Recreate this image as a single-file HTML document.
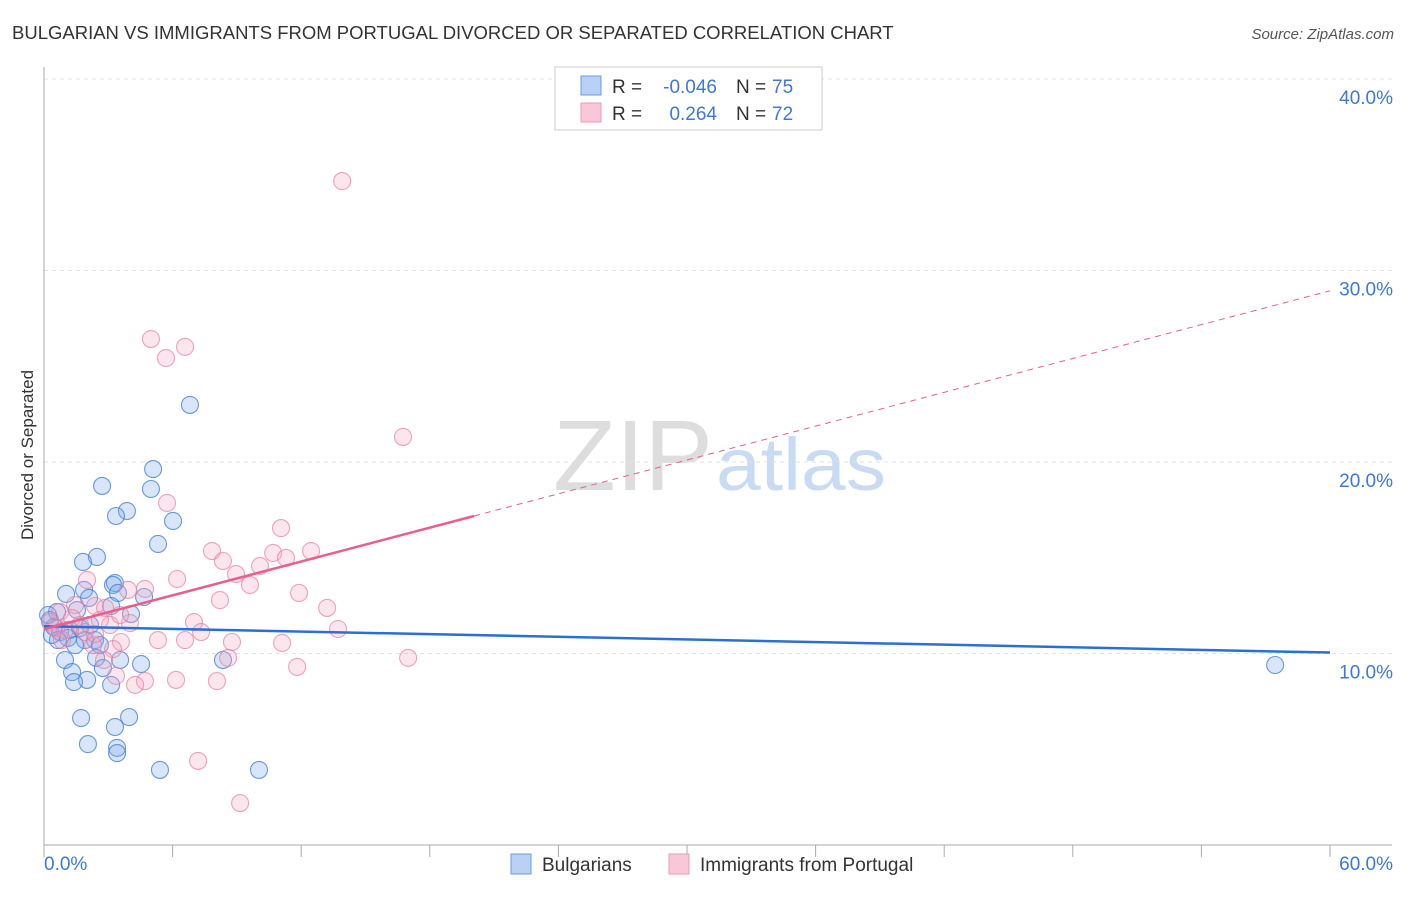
<!DOCTYPE html>
<html><head><meta charset="utf-8"><style>
body{margin:0;background:#fff;font-family:"Liberation Sans",sans-serif;}
svg text{font-family:"Liberation Sans",sans-serif;}
</style></head><body>
<svg id="chart" width="1406" height="892" xmlns="http://www.w3.org/2000/svg">
<text x="12" y="39" font-size="18.5" fill="#333">BULGARIAN VS IMMIGRANTS FROM PORTUGAL DIVORCED OR SEPARATED CORRELATION CHART</text>
<text x="1394" y="39" font-size="15" fill="#555" font-style="italic" text-anchor="end">Source: ZipAtlas.com</text>
<text transform="translate(33,455) rotate(-90)" font-size="17" fill="#333" text-anchor="middle">Divorced or Separated</text>
<g>
<text x="553" y="490" font-size="100" fill="#ddd" font-family="Liberation Serif,serif" textLength="160" lengthAdjust="spacingAndGlyphs">ZIP</text>
<text x="716" y="490" font-size="74" fill="#c8dbf3" textLength="170" lengthAdjust="spacingAndGlyphs">atlas</text>
</g>
<g id="grid"></g>
<g id="axes"></g>
<g id="pts"></g>
<g id="trends"></g>
<g>
<rect x="555" y="67" width="267" height="63" fill="#fff" stroke="#ccc"/>
<rect x="581" y="76" width="20" height="19" fill="#b9d1f4" stroke="#6b9be0"/>
<rect x="581" y="103" width="20" height="19" fill="#f8c8d8" stroke="#e898b4"/>
<text x="612" y="93" font-size="19" fill="#333">R =</text>
<text x="717" y="93" font-size="19" fill="#3d78d8" text-anchor="end">-0.046</text>
<text x="736" y="93" font-size="19" fill="#333">N =</text>
<text x="772" y="93" font-size="19" fill="#3d78d8">75</text>
<text x="612" y="120" font-size="19" fill="#333">R =</text>
<text x="717" y="120" font-size="19" fill="#3d78d8" text-anchor="end">0.264</text>
<text x="736" y="120" font-size="19" fill="#333">N =</text>
<text x="772" y="120" font-size="19" fill="#3d78d8">72</text>
</g>
<g>
<rect x="511" y="854" width="20" height="20" fill="#b9d1f4" stroke="#6b9be0"/>
<text x="542" y="871" font-size="19" fill="#333">Bulgarians</text>
<rect x="669" y="854" width="20" height="20" fill="#f8c8d8" stroke="#e898b4"/>
<text x="700" y="871" font-size="19" fill="#333">Immigrants from Portugal</text>
</g>
</svg>
<script>
const yTicks=[10,20,30,40];
const xTickLabels=["0.0%","60.0%"];
const blueX=[6.81,5.09,2.71,4.99,3.87,3.36,6.02,5.32,2.47,1.82,3.31,3.22,4.67,1.03,3.45,1.87,2.10,3.13,4.06,1.54,0.61,0.28,0.47,0.75,1.21,1.68,2.15,2.38,1.91,1.12,1.45,0.65,2.61,0.98,2.43,2.75,1.31,2.01,3.13,1.40,4.53,8.35,3.55,57.44,1.73,3.97,3.31,2.05,3.41,3.41,5.41,10.03,0.19,0.37];
const blueY=[22.98,19.63,18.75,18.59,17.44,17.18,16.92,15.72,15.04,14.78,13.68,13.58,12.95,13.11,13.16,13.32,12.90,12.48,12.06,12.27,12.17,11.75,11.38,11.12,11.23,11.33,11.49,10.70,10.70,10.81,10.44,10.70,10.44,9.66,9.77,9.24,9.03,8.62,8.36,8.51,9.45,9.66,9.66,9.40,6.63,6.68,6.16,5.27,5.07,4.80,3.92,3.92,12.01,10.97];
const pinkX=[13.91,4.99,6.58,5.69,16.75,5.74,11.06,12.46,7.84,10.69,11.29,8.35,10.08,8.96,6.21,9.61,2.01,4.71,3.92,11.90,8.21,1.45,2.38,0.75,2.85,13.21,7.00,13.72,4.01,3.08,7.33,6.58,8.77,11.11,2.29,5.32,3.59,3.22,2.80,8.59,11.81,16.99,3.36,4.71,6.16,8.07,4.25,7.19,9.15,0.28,0.56,0.98,1.31,1.68,1.91,2.38,0.84,2.61,3.55];
const pinkY=[34.67,26.42,26.01,25.43,21.31,17.86,16.55,15.35,15.35,15.25,14.99,14.83,14.57,14.15,13.89,13.58,13.84,13.37,13.32,13.16,12.79,12.53,12.48,12.17,12.38,12.38,11.64,11.28,11.59,11.49,11.12,10.70,10.60,10.55,10.44,10.70,10.60,10.23,9.66,9.77,9.30,9.77,8.83,8.56,8.62,8.56,8.36,4.39,2.19,11.64,11.33,11.23,11.85,11.49,11.12,11.02,10.70,11.75,12.01];
const blueTrend=[11.42,10.05];
const pinkTrend=[11.27,28.94];
const pinkSolidEnd=20.07;

const NS="http://www.w3.org/2000/svg";
const X0=44,X1=1330,Y0=845;
function sx(v){return X0+v*(X1-X0)/60;}
function sy(v){return Y0-v*19.15;}
function mk(t,a,p){const e=document.createElementNS(NS,t);for(const k in a)e.setAttribute(k,a[k]);p.appendChild(e);return e;}
const grid=document.getElementById('grid'),axes=document.getElementById('axes');
yTicks.forEach(t=>{
  const l=mk('line',{x1:X0,x2:1392,y1:sy(t),y2:sy(t),stroke:'#e2e2e2','stroke-dasharray':'4,4'},grid);
  
  
  const tx=mk('text',{x:1393,y:sy(t)+25,'font-size':19,fill:'#3d78d8','text-anchor':'end'},grid);
  tx.textContent=t.toFixed(1)+'%';
  
  
});
const ya=mk('line',{x1:X0,x2:X0,y1:67,y2:Y0,stroke:'#aaa'},axes);


const xa=mk('line',{x1:X0,x2:1392,y1:Y0,y2:Y0,stroke:'#aaa'},axes);


for(let i=0;i<=10;i++){
  const tk=mk('line',{x1:sx(i*6),x2:sx(i*6),y1:Y0,y2:Y0+12,stroke:'#aaa'},axes);
  
  
}
xTickLabels.forEach((s,i)=>{
  const tx=mk('text',{x:i?1393:44,y:870,'font-size':19,fill:'#3d78d8','text-anchor':i?'end':'start'},axes);
  tx.textContent=s;
  
  
});
const pts=document.getElementById('pts');
blueX.forEach((v,i)=>{
  const c=mk('circle',{cx:sx(v),cy:sy(blueY[i]),r:8.5,fill:'rgba(120,165,232,0.28)',stroke:'rgba(60,120,215,0.75)','stroke-width':1.1},pts);
  
  
});
pinkX.forEach((v,i)=>{
  const c=mk('circle',{cx:sx(v),cy:sy(pinkY[i]),r:8.5,fill:'rgba(245,165,195,0.28)',stroke:'rgba(230,125,160,0.7)','stroke-width':1.1},pts);
  
  
});
const tr=document.getElementById('trends');
const bl=mk('line',{x1:sx(0),y1:sy(blueTrend[0]),x2:sx(60),y2:sy(blueTrend[1]),stroke:'#2a6fd6','stroke-width':2.5},tr);


const pAt=x=>pinkTrend[0]+(pinkTrend[1]-pinkTrend[0])*x/60;
const pd=mk('line',{x1:sx(pinkSolidEnd),y1:sy(pAt(pinkSolidEnd)),x2:sx(60),y2:sy(pinkTrend[1]),stroke:'#e8608a','stroke-width':1,'stroke-dasharray':'6,5'},tr);


const ps=mk('line',{x1:sx(0),y1:sy(pinkTrend[0]),x2:sx(pinkSolidEnd),y2:sy(pAt(pinkSolidEnd)),stroke:'#e8608a','stroke-width':2.5},tr);


</script>
</body></html>
